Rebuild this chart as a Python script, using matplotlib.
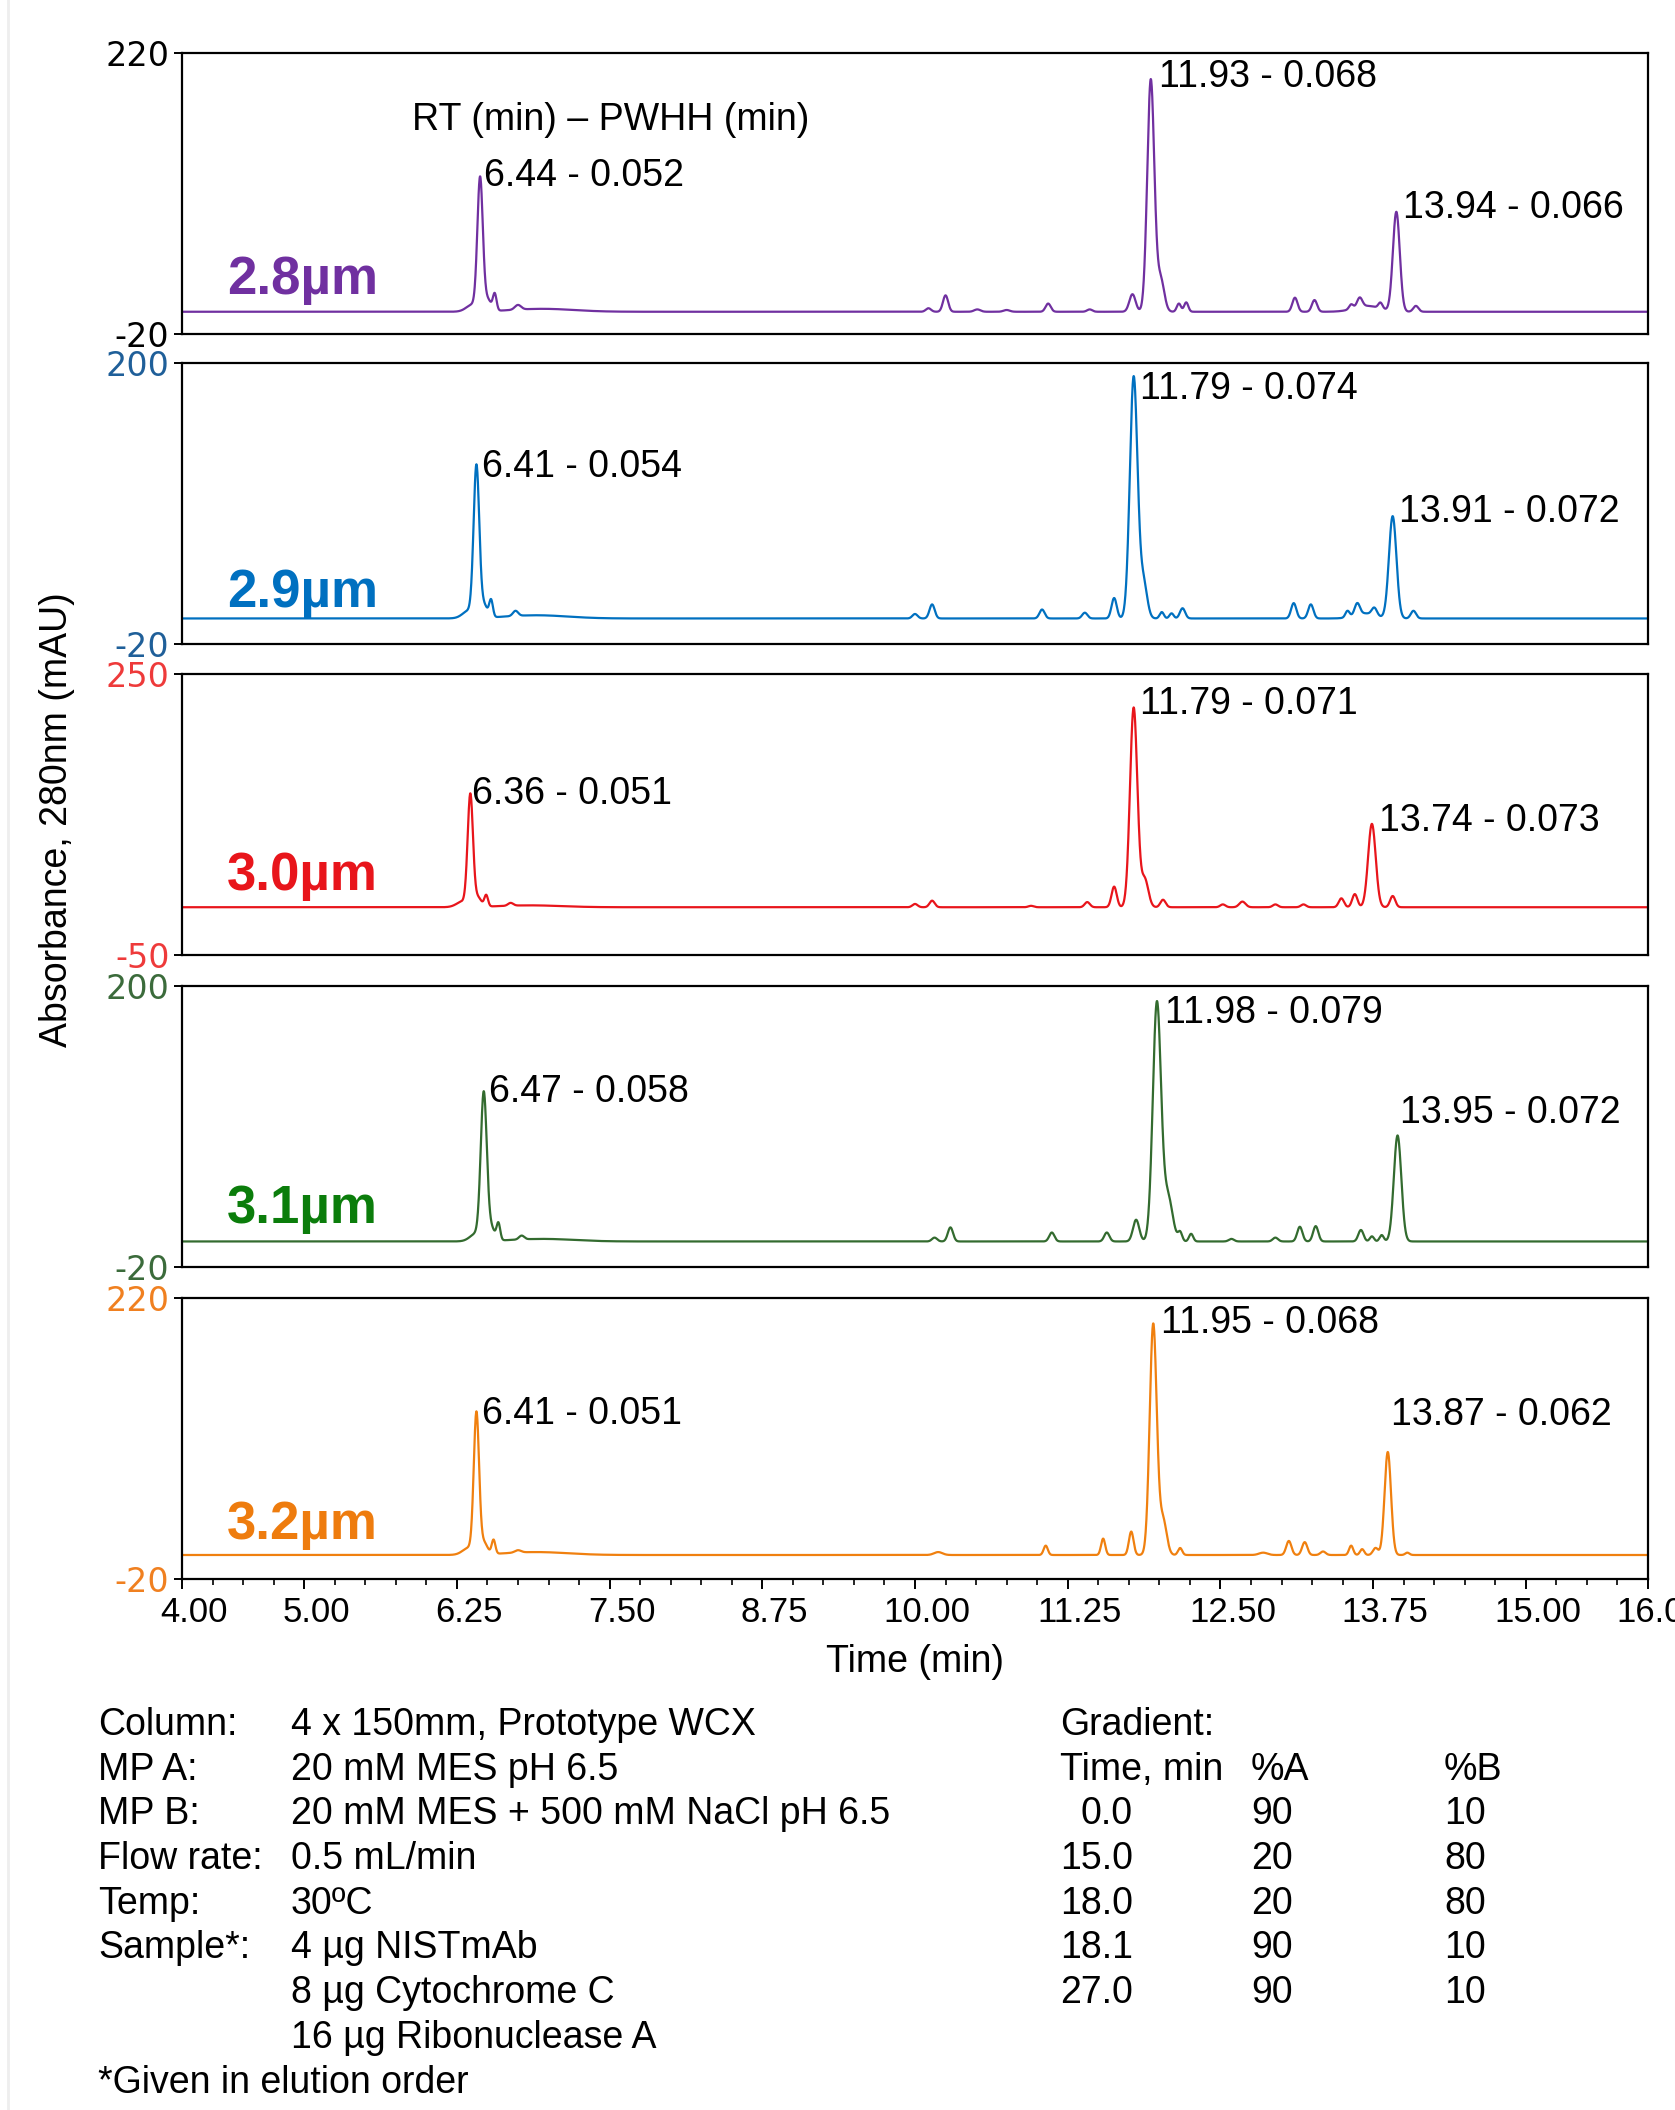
import numpy as np
import matplotlib
matplotlib.use("Agg")
import matplotlib.pyplot as plt
from matplotlib.ticker import MultipleLocator
from matplotlib.transforms import ScaledTranslation
from matplotlib.lines import Line2D

plt.rcParams['font.family'] = ['Liberation Sans', 'DejaVu Sans']

# one chromatogram per particle size
particle_sizes = ["2.8µm", "2.9µm", "3.0µm", "3.1µm", "3.2µm"]
y_ranges = [(-20, 220), (-20, 200), (-50, 250), (-20, 200), (-20, 220)]
baselines = [-1.0, 0.0, 1.0, 0.0, 0.5]

# labelled peaks: retention time (min), peak width at half height (min), height (mAU)
peak_rt = [[6.44, 11.93, 13.94],
           [6.41, 11.79, 13.91],
           [6.36, 11.79, 13.74],
           [6.47, 11.98, 13.95],
           [6.41, 11.95, 13.87]]
peak_pwhh = [[0.052, 0.068, 0.066],
             [0.054, 0.074, 0.072],
             [0.051, 0.071, 0.073],
             [0.058, 0.079, 0.072],
             [0.051, 0.068, 0.062]]
peak_height = [[111, 198, 85],
               [116, 189, 80],
               [117, 213, 89],
               [113, 186, 83],
               [118, 197, 88]]

# minor peaks, shoulders and tails
minor_rt = [
    [6.38, 6.50, 6.56, 6.75, 6.95, 10.11, 10.25, 10.51, 10.75, 11.09, 11.43, 11.78, 12.01,
     12.16, 12.22, 13.11, 13.27, 13.57, 13.64, 13.70, 13.81, 14.10],
    [6.35, 6.47, 6.53, 6.73, 6.90, 10.00, 10.14, 11.04, 11.39, 11.63, 11.87, 12.02, 12.10,
     12.19, 13.10, 13.24, 13.54, 13.62, 13.68, 13.76, 14.08],
    [6.30, 6.42, 6.49, 6.69, 6.85, 10.00, 10.14, 10.95, 11.41, 11.63, 11.88, 12.03, 12.52,
     12.68, 12.95, 13.18, 13.49, 13.60, 13.91],
    [6.41, 6.53, 6.59, 6.78, 6.95, 10.16, 10.29, 11.12, 11.57, 11.81, 12.07, 12.17, 12.26,
     12.59, 12.95, 13.15, 13.28, 13.65, 13.74, 13.82],
    [6.35, 6.47, 6.55, 6.75, 6.90, 10.19, 11.07, 11.54, 11.77, 12.03, 12.17, 12.85, 13.06,
     13.19, 13.34, 13.57, 13.66, 13.77, 14.03],
]
minor_height = [
    [6, 10, 14, 4, 2.5, 3, 14, 2, 1.5, 7, 2, 15, 28, 7, 8, 12, 10, 4, 8, 5, 5, 5],
    [6, 10, 13, 4, 2.5, 3.5, 11, 7, 4.5, 16, 28, 5, 4, 8, 12, 11, 5, 9, 4, 6, 6],
    [6, 10, 12, 3, 2, 3.5, 7, 1.5, 5.5, 22, 30, 8, 3, 6, 3, 3, 9.5, 14, 12],
    [6, 10, 13, 3, 2, 3, 11, 7, 7, 17, 35, 7, 6, 2, 3, 11.5, 12, 9, 4, 5],
    [6, 10, 12, 2, 2.5, 2.5, 8, 14, 20, 30, 6, 2, 12, 11, 3, 8, 5, 6, 2],
]
minor_pwhh = [
    [0.12, 0.07, 0.035, 0.06, 0.6, 0.05, 0.05, 0.06, 0.06, 0.05, 0.05, 0.06, 0.07,
     0.04, 0.04, 0.05, 0.05, 0.04, 0.05, 0.25, 0.04, 0.05],
    [0.12, 0.07, 0.035, 0.05, 0.6, 0.05, 0.05, 0.05, 0.05, 0.05, 0.07, 0.04, 0.04,
     0.05, 0.05, 0.05, 0.04, 0.05, 0.2, 0.05, 0.05],
    [0.12, 0.07, 0.035, 0.05, 0.6, 0.05, 0.05, 0.05, 0.05, 0.05, 0.07, 0.05, 0.05,
     0.06, 0.05, 0.05, 0.05, 0.05, 0.05],
    [0.12, 0.07, 0.035, 0.05, 0.6, 0.05, 0.05, 0.05, 0.05, 0.06, 0.09, 0.04, 0.04,
     0.05, 0.05, 0.05, 0.05, 0.05, 0.04, 0.04],
    [0.12, 0.07, 0.035, 0.06, 0.6, 0.08, 0.04, 0.04, 0.045, 0.07, 0.04, 0.08, 0.05,
     0.05, 0.05, 0.04, 0.04, 0.05, 0.04],
]

x_ticks = [4.00, 5.00, 6.25, 7.50, 8.75, 10.00, 11.25, 12.50, 13.75, 15.00, 16.00]

method_keys = ["Column:", "MP A:", "MP B:", "Flow rate:", "Temp:", "Sample*:", "", ""]
method_values = ["4 x 150mm, Prototype WCX", "20 mM MES pH 6.5",
                 "20 mM MES + 500 mM NaCl pH 6.5", "0.5 mL/min", "30ºC",
                 "4 µg NISTmAb", "8 µg Cytochrome C", "16 µg Ribonuclease A"]
gradient_time = ["0.0", "15.0", "18.0", "18.1", "27.0"]
gradient_a = [90, 20, 20, 90, 90]
gradient_b = [10, 80, 80, 10, 10]

line_colors = ["#7030a0", "#0070c0", "#e8151b", "#336b2f", "#f0800f"]
name_colors = ["#7030a0", "#0070c0", "#e8151b", "#0b7d0b", "#ee7c0e"]
tick_colors = ["black", "#1f5f99", "#ee3a3a", "#3b6b3b", "#f08020"]

# label offsets from the peak apex, in pixels (right, up)
label_offsets = [[(4, -4), (8, -7), (7, -6)],
                 [(6, -7), (6, -22), (6, -6)],
                 [(2, -6), (6, -6), (7, -7)],
                 [(5, -5), (8, -19), (2, 12)],
                 [(6, -7), (8, -9), (3, 27)]]
name_y = [0.143, 0.132, 0.231, 0.157, 0.141]

W, H = 1675, 2110
panel_tops = [53, 363, 674, 986, 1298]
panel_h = 281

t = np.linspace(4, 16, 6001)


def chromatogram(rts, heights, widths, base):
    y = np.full_like(t, base)
    for r, h, w in zip(rts, heights, widths):
        s = w / 2.3548
        y += h * np.exp(-0.5 * ((t - r) / s) ** 2)
    return y


fig = plt.figure(figsize=(W / 100, H / 100), dpi=100)

axes = []
for i, top in enumerate(panel_tops):
    ax = fig.add_axes([182 / W, 1 - (top + panel_h) / H, 1466 / W, panel_h / H])
    axes.append(ax)

    y = chromatogram(peak_rt[i] + minor_rt[i], peak_height[i] + minor_height[i],
                     peak_pwhh[i] + minor_pwhh[i], baselines[i])
    ax.plot(t, y, color=line_colors[i], lw=1.6)

    for rt, pw, h, (dx, dy) in zip(peak_rt[i], peak_pwhh[i], peak_height[i], label_offsets[i]):
        ax.annotate(f"{rt:.2f} - {pw:.3f}", xy=(rt, h + baselines[i]),
                    xytext=(dx, dy), textcoords='offset pixels',
                    ha='left', va='baseline', fontsize=27)

    ax.text(0.0307, name_y[i], particle_sizes[i], transform=ax.transAxes,
            fontsize=38, fontweight='bold', color=name_colors[i], va='baseline')

    lo, hi = y_ranges[i]
    ax.set_ylim(lo, hi)
    ax.set_yticks([lo, hi])
    ax.set_yticklabels([str(lo), str(hi)], family='DejaVu Sans', fontsize=24,
                       color=tick_colors[i])
    ax.tick_params(axis='y', direction='out', length=6, width=1.4, pad=3)
    ax.set_xlim(4, 16)
    for sp in ax.spines.values():
        sp.set_linewidth(1.6)
    if i < 4:
        ax.tick_params(axis='x', bottom=False, labelbottom=False)

axes[0].text(0.157, 0.725, "RT (min) – PWHH (min)", transform=axes[0].transAxes,
             fontsize=27, va='baseline')

ax = axes[-1]
ax.set_xticks(x_ticks)
ax.set_xticklabels([f"{v:.2f}" for v in x_ticks], fontsize=25)
ax.xaxis.set_minor_locator(MultipleLocator(0.25))
ax.tick_params(axis='x', which='major', direction='out', length=7.5, width=1.4, pad=5)
ax.tick_params(axis='x', which='minor', direction='out', length=4, width=1.2)
shift = ScaledTranslation(12 / 100, 0, fig.dpi_scale_trans)
for lbl in ax.get_xticklabels():
    lbl.set_transform(lbl.get_transform() + shift)

fig.text(915 / W, 1 - 1662 / H, "Time (min)", ha='center', va='center', fontsize=27)
fig.text(57 / W, 1 - 820 / H, "Absorbance, 280nm (mAU)", rotation=90,
         ha='center', va='center', fontsize=27)

# method conditions and gradient table
row_y = [1735 + 44.7 * k for k in range(9)]
for k, (key, val) in enumerate(zip(method_keys, method_values)):
    fig.text(98 / W, 1 - row_y[k] / H, key, fontsize=27, va='baseline')
    fig.text(291 / W, 1 - row_y[k] / H, val, fontsize=27, va='baseline')
fig.text(98 / W, 1 - row_y[8] / H, "*Given in elution order", fontsize=27, va='baseline')

fig.text(1060 / W, 1 - row_y[0] / H, "Gradient:", fontsize=27, va='baseline')
fig.text(1060 / W, 1 - row_y[1] / H, "Time, min", fontsize=27, va='baseline')
fig.text(1251 / W, 1 - row_y[1] / H, "%A", fontsize=27, va='baseline')
fig.text(1444 / W, 1 - row_y[1] / H, "%B", fontsize=27, va='baseline')
for k, (tm, a, b) in enumerate(zip(gradient_time, gradient_a, gradient_b)):
    yy = 1 - row_y[k + 2] / H
    fig.text(1133 / W, yy, tm, fontsize=27, va='baseline', ha='right')
    fig.text(1251 / W, yy, str(a), fontsize=27, va='baseline')
    fig.text(1444 / W, yy, str(b), fontsize=27, va='baseline')

fig.add_artist(Line2D([8 / W, 8 / W], [0, 1], color='#eeeeee', lw=2,
                      transform=fig.transFigure))

fig.savefig("out.png", dpi=100)
